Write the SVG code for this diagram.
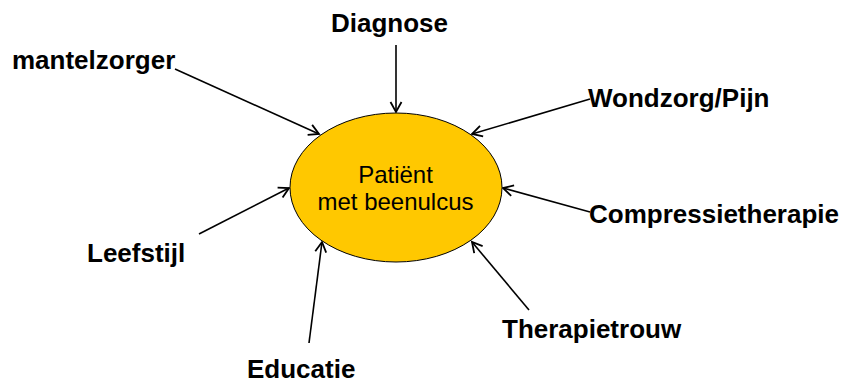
<svg xmlns="http://www.w3.org/2000/svg" width="849" height="383" viewBox="0 0 849 383">
  <style>
    .lbl { font-family: "Liberation Sans", Arial, sans-serif; font-weight: bold; font-size: 26px; fill: #000; }
    .ctr { font-family: "Liberation Sans", Arial, sans-serif; font-size: 24px; fill: #000; text-anchor: middle; }
    .conn { stroke: #000; stroke-width: 1.6; fill: none; marker-end: url(#arrow); }
  </style>
  <defs>
    <marker id="arrow" markerUnits="userSpaceOnUse" markerWidth="14" markerHeight="14" viewBox="0 0 14 14" refX="12" refY="7" orient="auto">
      <path d="M2,1.5 L12,7 L2,12.5" fill="none" stroke="#000" stroke-width="1.8"/>
    </marker>
  </defs>
  <rect width="849" height="383" fill="#fff"/>
  <g id="connectors">
    <line class="conn" x1="396" y1="45" x2="396" y2="112"/>
    <line class="conn" x1="175" y1="69" x2="319" y2="134"/>
    <line class="conn" x1="590" y1="99" x2="472" y2="134"/>
    <line class="conn" x1="590" y1="212" x2="503" y2="188"/>
    <line class="conn" x1="199" y1="234" x2="289" y2="188"/>
    <line class="conn" x1="309" y1="343" x2="322" y2="242"/>
    <line class="conn" x1="529" y1="310" x2="472" y2="242"/>
  </g>
  <g id="patient">
    <ellipse cx="396" cy="187.5" rx="106" ry="74.5" fill="#FFC800" stroke="#000" stroke-width="1"/>
    <text class="ctr" x="395.5" y="183">Patiënt</text>
    <text class="ctr" x="395.5" y="210">met beenulcus</text>
  </g>
  <g id="diagnose"><text class="lbl" x="331" y="32">Diagnose</text></g>
  <g id="mantelzorger"><text class="lbl" x="12" y="69">mantelzorger</text></g>
  <g id="wondzorg"><text class="lbl" x="588" y="107">Wondzorg/Pijn</text></g>
  <g id="compressietherapie"><text class="lbl" x="589" y="223">Compressietherapie</text></g>
  <g id="leefstijl"><text class="lbl" x="87" y="262">Leefstijl</text></g>
  <g id="therapietrouw"><text class="lbl" x="502" y="338">Therapietrouw</text></g>
  <g id="educatie"><text class="lbl" x="247" y="378">Educatie</text></g>
</svg>
